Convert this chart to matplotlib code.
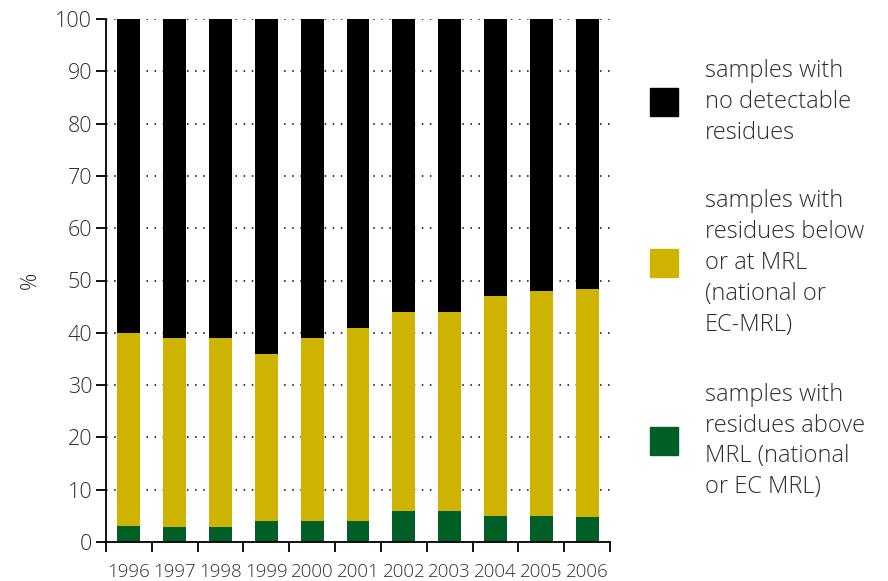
import matplotlib
matplotlib.use("Agg")
import matplotlib.pyplot as plt
from matplotlib.patches import Rectangle
import numpy as np

years = ["1996", "1997", "1998", "1999", "2000", "2001", "2002", "2003", "2004", "2005", "2006"]
above_mrl = [3.0, 2.8, 2.8, 4.0, 4.0, 4.0, 5.9, 5.9, 5.0, 5.0, 4.8]
below_mrl = [37.0, 36.2, 36.2, 32.0, 35.0, 37.0, 38.1, 38.1, 42.0, 43.0, 43.5]
no_residues = [100 - a - b for a, b in zip(above_mrl, below_mrl)]

labels = [
    "samples with\nno detectable\nresidues",
    "samples with\nresidues below\nor at MRL\n(national or\nEC-MRL)",
    "samples with\nresidues above\nMRL (national\nor EC MRL)",
]
colors = ["#000000", "#ceb400", "#005f26"]
text_color = "#2e2e2e"

plt.rcParams["font.family"] = ["Open Sans", "DejaVu Sans"]
plt.rcParams["font.weight"] = "light"

fig = plt.figure(figsize=(8.88, 5.81), dpi=100)
ax = fig.add_axes([106 / 888, 1 - 542 / 581, 504 / 888, 523 / 581])

x = np.arange(len(years))
w = 0.5
ax.bar(x, above_mrl, width=w, color=colors[2], zorder=2)
ax.bar(x, below_mrl, width=w, bottom=above_mrl, color=colors[1], zorder=2)
ax.bar(x, no_residues, width=w, bottom=np.add(above_mrl, below_mrl), color=colors[0], zorder=2)

ax.set_xlim(-0.5, len(years) - 0.5)
ax.set_ylim(0, 100)
ax.set_yticks(np.arange(0, 101, 10))
ax.yaxis.grid(True, color="black", linewidth=1.1, linestyle=(0, (1, 4.3)), zorder=0)
ax.set_axisbelow(True)

for s in ["top", "right"]:
    ax.spines[s].set_visible(False)
for s in ["left", "bottom"]:
    ax.spines[s].set_linewidth(1.3)

ax.tick_params(axis="y", direction="out", length=7, width=1.3, labelsize=15.5,
               labelcolor=text_color, pad=3)
ax.set_xticks(x)
ax.set_xticklabels(years)
ax.set_xticks(np.arange(-0.5, len(years)), minor=True)
ax.tick_params(axis="x", which="major", length=0, labelsize=13.5, labelcolor=text_color, pad=15)
ax.tick_params(axis="x", which="minor", direction="out", length=7, width=1.3)

ax.set_ylabel("%", fontsize=15.5, color=text_color, labelpad=10, fontweight="light")

# legend drawn in figure pixels
centers = [102, 263, 441]
for lab, col, cy in zip(labels, colors, centers):
    fig.patches.append(Rectangle((650 / 888, 1 - (cy + 14) / 581), 28 / 888, 28 / 581,
                                 transform=fig.transFigure, color=col))
    fig.text(705 / 888, 1 - cy / 581, lab, ha="left", va="center", fontsize=17,
             color=text_color, linespacing=1.38)

fig.savefig("out.png", dpi=100)
